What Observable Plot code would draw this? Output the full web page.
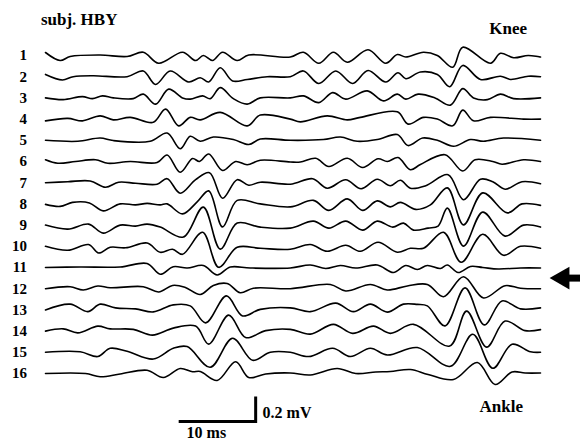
<!DOCTYPE html>
<html><head><meta charset="utf-8">
<script src="https://cdn.jsdelivr.net/npm/d3@7"></script>
<script src="https://cdn.jsdelivr.net/npm/@observablehq/plot@0.6"></script>
<style>html,body{margin:0;padding:0;background:#fff} svg{display:block}</style>
</head><body><div id="chart"></div>
<script>
// time (ms), amplitude (mV) key points of each averaged trace
const trace1 = [[0,0.024],[1.9,-0.04],[3.2,-0.008],[7.1,0.004],[10.6,-0.008],[12.7,0.026],[14.7,-0.062],[17.8,0.026],[19.5,-0.04],[20.5,0],[21.7,-0.04],[23.0,0.026],[24.9,-0.04],[26.4,0.004],[31.8,-0.012],[33.5,0.026],[35.5,-0.062],[37.4,0.026],[39.2,-0.054],[41.9,0.046],[44.2,-0.062],[45.7,0.008],[46.8,-0.012],[49.1,0.026],[50.9,0],[52.9,-0.094],[54.2,0.066],[57.8,-0.062],[59.1,0.018],[60.8,-0.018],[62.7,0],[64.3,-0.012]];
const trace2 = [[0,0.018],[2.2,-0.026],[3.6,0],[6.2,0.008],[10.6,0],[12.7,0.046],[14.3,-0.062],[16.2,0.046],[18.6,-0.042],[20.1,-0.008],[21.2,-0.042],[22.7,0.072],[24.3,-0.034],[26.2,-0.022],[28.8,0],[31.8,0],[33.5,0.046],[35.5,-0.054],[37.7,0.046],[39.9,-0.054],[41.9,0.05],[44.2,-0.042],[45.8,0.032],[46.8,-0.016],[48.7,0.038],[50.9,0.018],[52.5,-0.08],[54.2,0.09],[56.5,-0.022],[59.1,0.004],[60.4,-0.022],[62.7,0.004],[64.3,0]];
const trace3 = [[0,0],[2.3,-0.014],[4.8,0.01],[6.1,-0.006],[7.4,0.016],[8.8,0],[11.4,-0.006],[12.7,0.03],[14.3,-0.05],[16.0,0.07],[17.8,0],[18.8,-0.01],[20.4,0.016],[21.4,-0.006],[22.7,0.082],[24.4,-0.006],[26.2,-0.05],[27.9,0],[31.8,0],[33.5,0.016],[35.5,-0.038],[37.3,0.042],[39.0,-0.01],[41.8,0.056],[43.9,-0.024],[45.7,0.03],[46.8,-0.01],[48.4,0.03],[50.6,0],[52.6,-0.058],[54.2,0.074],[55.6,0],[57.4,-0.014],[59.1,0.03],[60.8,-0.006],[64.3,0]];
const trace4 = [[0,-0.014],[2.9,0.006],[4.8,-0.014],[7.1,0.026],[8.8,-0.006],[11.0,0.014],[14.0,-0.026],[15.6,0.08],[17.3,-0.054],[18.8,0.014],[20.1,-0.006],[22.7,0.054],[26.2,-0.054],[27.9,0.032],[31.8,0],[33.1,-0.022],[36.6,0.026],[39.2,-0.006],[40.9,0.014],[45.7,0.058],[47.1,-0.04],[49.1,0.014],[50.9,0],[52.9,-0.054],[54.2,0.072],[55.6,-0.014],[57.8,0.014],[62.1,0],[64.3,0]];
const trace5 = [[0,0],[4.2,-0.008],[7.1,0.018],[8.8,-0.002],[13.6,-0.008],[15.8,0.058],[17.5,-0.068],[18.8,0.032],[20.1,-0.008],[21.8,0.026],[24.4,0.006],[26.4,-0.034],[27.9,0.01],[31.8,0],[36.1,0.006],[38.3,0.026],[40.5,-0.008],[43.1,0.006],[45.7,0.046],[47.1,-0.042],[49.0,0.018],[50.9,0],[53.0,-0.048],[55.2,0.006],[56.9,-0.008],[59.5,0.018],[64.3,0]];
const trace6 = [[0,0.014],[1.6,-0.014],[3.9,0],[6.5,0.014],[8.1,-0.014],[11.0,0],[14.5,-0.008],[15.8,0.052],[17.5,-0.086],[19.1,0.024],[20.0,0],[21.2,0.06],[23.0,-0.072],[24.7,0],[26.2,-0.026],[27.9,0.01],[31.8,-0.004],[33.1,-0.004],[35.1,0.026],[36.8,-0.04],[39.2,0.026],[41.2,-0.048],[43.2,0.022],[44.4,0],[45.8,0.032],[47.4,-0.066],[48.7,-0.024],[51.9,0.054],[54.2,-0.076],[55.8,0.014],[58.1,0],[59.3,-0.022],[62.1,0.014],[64.3,0]];
const trace7 = [[0,0],[2.9,0.008],[5.8,0.014],[7.8,-0.036],[9.5,0.004],[11.7,-0.004],[14.5,-0.012],[15.8,0.032],[17.5,-0.084],[19.5,0.024],[21.3,0.08],[23.0,-0.124],[24.9,0.024],[26.4,-0.02],[27.9,0.004],[31.8,-0.012],[34.7,0.032],[36.6,-0.044],[39.0,0.024],[41.0,-0.048],[43.1,0.028],[44.8,-0.024],[46.1,0.02],[47.4,-0.044],[49.4,-0.024],[52.3,0.064],[54.3,-0.136],[56.5,0.028],[58.1,0.008],[59.7,-0.052],[61.9,0.008],[64.3,-0.008]];
const trace8 = [[0,-0.004],[1.9,-0.02],[3.5,0.012],[5.7,0.008],[7.5,-0.056],[9.7,0],[11.7,-0.008],[13.2,0.004],[14.9,-0.008],[15.8,0],[17.8,-0.08],[19.7,0.016],[21.2,0.104],[23.0,-0.184],[24.9,0.028],[27.9,0],[31.8,-0.024],[34.8,0.028],[36.8,-0.052],[39.2,0.04],[41.2,-0.052],[43.1,0.024],[44.8,-0.024],[46.1,0.012],[48.1,-0.044],[50.0,-0.008],[52.2,0.128],[54.3,-0.168],[56.8,0.088],[60.0,-0.072],[61.9,0],[64.3,-0.012]];
const trace9 = [[0,0],[2.9,-0.032],[5.6,0.008],[7.5,-0.064],[9.7,0],[11.7,-0.008],[13.2,0.008],[14.9,-0.016],[17.9,-0.096],[20.5,0.144],[22.7,-0.192],[24.9,0.016],[27.9,-0.016],[31.8,-0.024],[34.8,0.032],[36.8,-0.024],[39.0,0.032],[41.2,-0.04],[43.1,0.032],[45.1,-0.016],[46.5,0.016],[47.8,-0.04],[49.7,-0.024],[51.0,-0.008],[52.2,0.136],[54.3,-0.168],[56.8,0.104],[59.7,-0.088],[62.1,0],[64.3,-0.016]];
const trace10 = [[0,0],[2.9,-0.032],[5.6,0.014],[6.9,-0.054],[8.4,-0.008],[10.4,-0.012],[13.2,0.026],[14.9,-0.048],[16.5,-0.024],[17.8,-0.064],[20.4,0.112],[22.5,-0.168],[24.9,-0.008],[27.9,-0.016],[31.8,-0.024],[34.4,0.014],[36.6,-0.04],[39.0,0.008],[40.9,-0.04],[43.2,0.032],[45.7,-0.048],[47.4,-0.016],[49.1,-0.016],[51.7,0.112],[54.0,-0.128],[56.8,0.096],[59.5,-0.072],[61.7,0],[64.3,-0.016]];
const trace11 = [[0,0],[4.5,0.004],[9.7,0.004],[13.2,0.032],[14.9,-0.054],[16.6,0.006],[18.4,-0.004],[20.5,0.016],[22.3,-0.06],[24.0,0.004],[26.6,-0.004],[31.8,-0.004],[34.4,0.02],[36.4,-0.008],[38.3,0.016],[40.3,-0.004],[43.1,0.02],[45.2,-0.04],[46.8,0.016],[48.3,-0.016],[49.6,0.016],[51.3,-0.008],[52.2,0.02],[53.6,-0.04],[55.2,0.008],[56.8,0],[58.8,-0.012],[61.7,-0.004],[64.3,-0.004]];
const trace12 = [[0,0],[3.2,0.016],[4.9,-0.01],[6.8,0.022],[8.4,0.008],[12.7,0.016],[14.7,-0.026],[16.5,0.026],[18.1,0.012],[20.1,-0.046],[21.8,0.026],[23.6,0.042],[25.3,-0.032],[27.0,0.004],[31.8,0],[37.0,0.034],[39.0,-0.018],[42.2,0.034],[44.4,-0.01],[47.0,0.022],[49.6,0.034],[51.7,-0.064],[54.3,0.096],[56.9,-0.074],[59.7,0.024],[61.7,0.004],[64.3,0]];
const trace13 = [[0,0],[3.2,0.046],[5.5,-0.014],[7.1,0.046],[9.1,0.016],[11.7,0.008],[14.0,-0.016],[16.6,0.04],[18.8,0.032],[20.8,-0.104],[23.5,0.112],[25.6,-0.048],[27.9,0.004],[31.8,0.016],[34.4,-0.014],[37.7,0.054],[40.0,-0.014],[42.2,0.046],[44.4,-0.018],[46.5,0.046],[48.3,0.044],[49.6,0.032],[51.9,-0.128],[54.5,0.176],[57.0,-0.12],[59.3,0.072],[61.7,0.008],[64.3,0.016]];
const trace14 = [[0,0],[2.3,0.018],[4.2,-0.014],[6.8,0.04],[8.4,0.018],[11.4,0.014],[13.9,-0.032],[16.6,0.024],[19.5,0.04],[21.2,-0.104],[23.8,0.128],[26.0,-0.052],[28.6,0.004],[31.8,0.014],[34.4,-0.024],[37.4,0.054],[39.9,-0.018],[42.6,0.04],[44.8,-0.018],[47.8,0.054],[52.5,-0.12],[54.7,0.16],[57.3,-0.128],[59.7,0.08],[62.3,0.004],[64.3,0.012]];
const trace15 = [[0,0],[4.5,0.004],[6.8,-0.034],[8.4,0.032],[10.6,0.008],[14.0,-0.054],[16.6,0.032],[18.4,0.046],[21.4,-0.12],[24.3,0.112],[26.9,-0.064],[29.2,0],[31.8,0],[34.2,-0.034],[37.3,0.032],[39.6,-0.034],[42.2,0.032],[44.4,-0.022],[48.3,0.038],[52.6,-0.112],[55.5,0.144],[58.1,-0.128],[60.6,0.064],[63.0,0.004],[64.3,0]];
const trace16 = [[0,0],[5.2,0],[7.1,-0.026],[9.7,-0.004],[13.2,0.026],[15.3,-0.032],[17.5,0.04],[19.1,0.014],[20.1,0.016],[22.3,-0.056],[24.7,0.094],[26.4,-0.032],[28.6,-0.004],[31.8,0.004],[34.4,-0.012],[37.9,0.04],[40.3,0],[42.9,0.012],[44.8,0.016],[47.4,0.032],[49.7,-0.008],[53.0,-0.048],[56.1,0.088],[58.4,-0.088],[60.6,0.012],[62.3,0.004],[64.3,0.004]];

const traceLabels = ["1","2","3","4","5","6","7","8","9","10","11","12","13","14","15","16"];
const timeBarMs = 10;     // horizontal calibration bar
const ampBarMv = 0.2;     // vertical calibration bar
const titleText = "subj. HBY";
const topSite = "Knee";
const bottomSite = "Ankle";
const arrowTrace = 11.5;  // arrow sits between traces 11 and 12

const traces = [trace1,trace2,trace3,trace4,trace5,trace6,trace7,trace8,trace9,trace10,trace11,trace12,trace13,trace14,trace15,trace16];
const OFFSET = 0.1696; // vertical spacing between traces (mV)
const rows = traces.flatMap((tr, i) => tr.map(([t, v]) => ({trace: i + 1, t, y: v - i * OFFSET})));
const labelRows = traceLabels.map((l, i) => ({label: l, y: -i * OFFSET}));

const font = "Liberation Serif, Times New Roman, serif";
const barX0 = 17.3, barY = -2.928;
const arrowY = -(arrowTrace - 1) * OFFSET;

const chart = Plot.plot({
  width: 580,
  height: 441,
  marginLeft: 45, marginRight: 40, marginTop: 0, marginBottom: 0,
  x: {domain: [0, 64.3], axis: null},
  y: {domain: [-3.088, 0.44], axis: null},
  style: {background: "#fff", fontFamily: font},
  marks: [
    Plot.line(rows, {x: "t", y: "y", z: "trace", curve: "catmull-rom", stroke: "#000", strokeWidth: 1.6}),
    Plot.text(labelRows, {x: -2.4, y: "y", text: "label", textAnchor: "end", fontWeight: "bold", fontSize: 15, fontFamily: font, fill: "#000"}),
    Plot.text([titleText], {x: -0.6, y: 0.285, text: d => d, textAnchor: "start", fontWeight: "bold", fontSize: 17, fontFamily: font}),
    Plot.text([topSite], {x: 60.1, y: 0.212, text: d => d, fontWeight: "bold", fontSize: 17, fontFamily: font}),
    Plot.text([bottomSite], {x: 59.2, y: -2.808, text: d => d, fontWeight: "bold", fontSize: 17, fontFamily: font}),
    // calibration bars
    Plot.link([timeBarMs], {x1: barX0, x2: d => barX0 + d, y1: barY, y2: barY, stroke: "#000", strokeWidth: 3}),
    Plot.link([ampBarMv], {x1: barX0 + timeBarMs, x2: barX0 + timeBarMs, y1: barY - 0.012, y2: d => barY + d, stroke: "#000", strokeWidth: 3}),
    Plot.text([`${ampBarMv} mV`], {x: barX0 + timeBarMs + 0.9, y: -2.856, text: d => d, textAnchor: "start", fontWeight: "bold", fontSize: 16, fontFamily: font}),
    Plot.text([`${timeBarMs} ms`], {x: barX0 + 3.6, y: -3.016, text: d => d, fontWeight: "bold", fontSize: 16, fontFamily: font}),
    // arrow
    Plot.link([0], {x1: 67.3, x2: 70, y1: arrowY, y2: arrowY, stroke: "#000", strokeWidth: 7}),
    Plot.dot([0], {x: 67.2, y: arrowY, symbol: "triangle", r: 8.5, rotate: -90, fill: "#000", stroke: "none"})
  ]
});
document.getElementById("chart").append(chart);
</script>
</body></html>
